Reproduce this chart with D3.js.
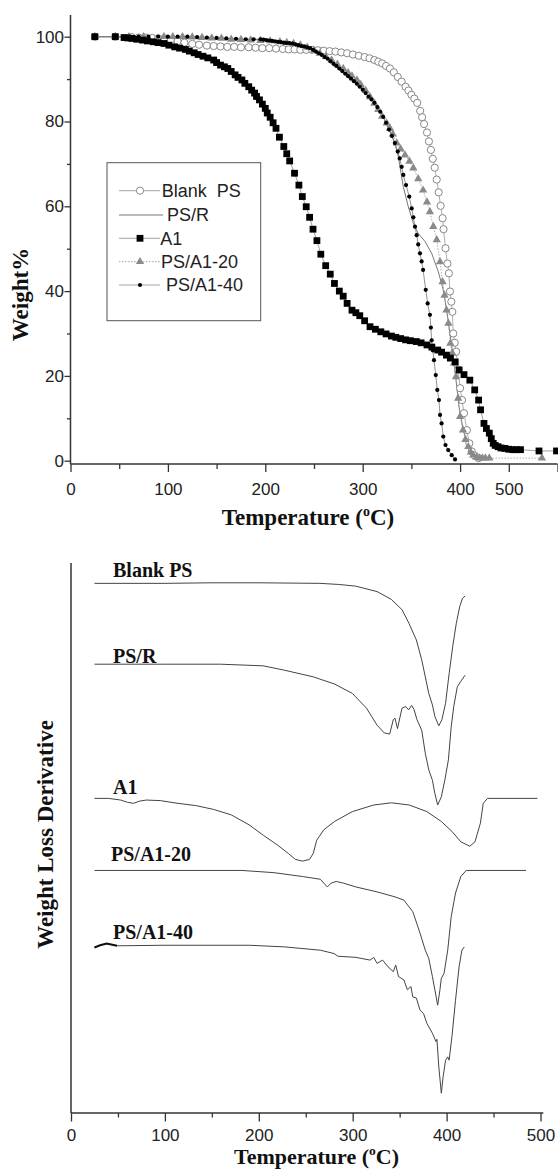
<!DOCTYPE html>
<html><head><meta charset="utf-8">
<script src="https://cdn.jsdelivr.net/npm/d3@7"></script>
<style>body{margin:0;background:#fff}</style>
</head><body>
<svg id="c" width="558" height="1169" xmlns="http://www.w3.org/2000/svg"></svg>
<script>
// ---------- DATA: TGA (Weight % vs Temperature °C) ----------
const tgaBlankPS = [[25,100],[46,100],[63,99.9],[70,99.8],[77,99.8],[84,99.7],[90,99.6],[96,99.5],[103,99.2],[110,98.9],[117,98.6],[125,98.3],[132,98.1],[140,97.9],[147,97.8],[154,97.7],[161,97.6],[168,97.6],[175,97.5],[183,97.5],[190,97.4],[197,97.3],[204,97.3],[211,97.2],[218,97.1],[224,97.0],[230,97.0],[236,96.9],[242,96.9],[248,96.9],[254,96.8],[260,96.7],[266,96.6],[272,96.5],[278,96.3],[284,96.1],[290,95.8],[296,95.5],[302,95.2],[307,94.9],[312,94.5],[316,94.1],[320,93.7],[324,93.1],[328,92.5],[332,91.6],[336,90.5],[340,89.4],[344,88.2],[347,87.3],[350,86.3],[353,85.4],[356,84.4],[359,82.5],[361,81.0],[363,79.4],[366,77.4],[368,75.3],[370,73.3],[372,71.2],[374,69.1],[376,66.3],[378,63.3],[380,60.1],[382,57.2],[383,54.6],[385,50.1],[387,46.5],[388.5,44.2],[389.6,39.9],[391,37.5],[392,35.1],[393,30.0],[394.5,27.8],[396,25.7],[398,21.5],[400,17.1],[402,14.3],[404,11.2],[407,7.2],[409.5,4.1],[412,2.2],[415,1.2],[419,0.6]];
const tgaPSR = [[25,100],[50,100],[100,99.8],[150,99.5],[195,99.3],[229,98.4],[246,97.3],[263,94.9],[280,91.7],[297,88.2],[311,84.7],[321,81.1],[328,77.6],[333,74.9],[336.6,71.7],[341.7,64.6],[346.8,59.9],[352,56.0],[357,53.6],[364,51.7],[370.8,48.9],[377.6,44.6],[382.7,40.3],[386.2,35.5],[389.6,30.0],[392.4,25.3],[395.8,19.0],[398.9,12.7],[403.3,7.2],[408.4,3.3],[417,0.9],[430,0.5]];
const tgaA1 = [[25,100],[46,100],[55,99.8],[59,99.7],[63,99.6],[68,99.4],[74,99.2],[79,99.0],[85,98.8],[90,98.6],[96,98.4],[101,98.0],[107,97.6],[112,97.3],[118,97.0],[122,96.6],[127,96.2],[131,95.8],[136,95.4],[141,95.0],[147,94.5],[150,93.9],[154,93.3],[158,92.9],[161.5,92.5],[165,91.8],[169,91.0],[172,90.4],[176,89.8],[179,89.0],[183,88.2],[186,87.4],[189,86.7],[191,85.9],[194,85.1],[197,84.1],[200,83.1],[202,82.0],[205,81.0],[208,79.7],[211,78.4],[214.5,76.3],[219,74.1],[222,72.4],[225,70.7],[230,67.8],[234.5,65.0],[238,62.3],[242,59.9],[245.5,57.4],[249,54.6],[253,51.9],[257,48.7],[262,46.0],[266.7,44.0],[271,41.8],[276,40.0],[280,38.8],[284,37.1],[289,35.5],[293,34.9],[297,34.2],[302,33.0],[307.5,31.6],[313,31.0],[318.6,30.4],[324,29.9],[329.5,29.4],[334,29.1],[339,28.8],[344,28.5],[349,28.3],[355,28.1],[360,27.8],[366,27.3],[371,26.8],[377,26.1],[381,25.6],[386,24.9],[390,24.2],[395,23.3],[399,21.4],[404,20.3],[410,19.0],[415,16.7],[419,14.3],[421,12.0],[424.5,8.8],[427,7.6],[430,6.5],[432,5.2],[434,4.1],[436,3.6],[439,3.3],[442,3.0],[446,2.9],[450,2.7],[454,2.6],[458,2.6],[462,2.6],[481,2.3],[499,2.3]];
const tgaPSA120 = [[25,100],[46,100],[60,100],[75,100],[96,100],[105,100],[115,100],[125,99.9],[135,99.8],[145,99.7],[155,99.6],[165,99.4],[175,99.3],[185,99.2],[195,99.1],[205,99.0],[215,98.8],[222,98.6],[229,98.4],[236,98.0],[243,97.5],[250,96.8],[256,96.1],[262,95.3],[268,94.5],[274,93.5],[280,92.5],[285,91.5],[289,90.7],[294,89.8],[298,88.7],[303,87.3],[307.5,85.8],[312,84.3],[316,82.8],[320,81.2],[324.6,79.6],[328,78.4],[331,77.0],[335,74.9],[339,73.5],[343.4,72.1],[348,70.6],[352,69.0],[357,66.5],[362,63.8],[366,61.0],[369,58.7],[372.5,55.2],[376,52.1],[379.4,46.9],[382,42.2],[384,39.0],[386,35.5],[388,32.4],[390,27.7],[392,25.4],[393.7,23.0],[395.8,19.8],[398,14.7],[400,10.4],[403,7.2],[405.5,5.0],[408.4,3.3],[411,2.0],[413.5,1.3],[417,0.8],[420,0.6],[423,0.6],[426,0.6],[430,0.6],[484,0.6]];
const tgaPSA140 = [[25,100],[46,100],[60,100],[70,100],[80,100],[90,100],[100,100],[110,100],[120,100],[130,99.9],[140,99.8],[150,99.7],[160,99.6],[170,99.5],[180,99.4],[188,99.4],[195,99.4],[198,99.3],[201,99.2],[204,99.1],[207,99.0],[210,98.9],[213,98.8],[216,98.7],[219,98.6],[222,98.5],[225,98.5],[228,98.4],[231,98.2],[234,98.0],[237,97.8],[240,97.7],[243,97.5],[246,97.3],[249,96.9],[252,96.5],[255,96.1],[258,95.7],[261,95.2],[264,94.8],[267,94.2],[270,93.6],[273,93.1],[276,92.5],[279,91.9],[282,91.3],[285,90.7],[288,90.1],[291,89.5],[294,88.9],[297,88.2],[300,87.5],[303,86.7],[306,85.9],[309,85.2],[312,84.4],[315,83.4],[318,82.3],[321,81.1],[324,79.7],[327,78.1],[330,76.6],[333,74.9],[336,72.9],[338,71.3],[340,69.3],[341.7,67.4],[344.5,65.0],[347.8,62.3],[350.3,59.5],[352,57.4],[353.7,55.2],[355.4,53.2],[357,51.0],[358.8,48.9],[360.5,47.0],[362,45.0],[364.7,40.3],[366.7,37.1],[369,34.4],[370,31.4],[370.8,28.4],[372,26.0],[373.2,23.7],[375,20.2],[376.6,16.7],[378.3,14.3],[379.4,10.8],[381,8.8],[382.7,5.7],[385,3.7],[387.8,2.5],[391.4,1.3],[394.8,0.3]];

const tgaYTicks = [0,20,40,60,80,100];
const tgaYMinor = [10,30,50,70,90];
const tgaXMinor = [50,150,250,350];
const tgaXTickVals = [0,100,200,300,400,450,500];
const tgaXTickLabels = ["0","100","200","300","400","500",""];
const legendNames = ["Blank  PS","PS/R","A1","PS/A1-20","PS/A1-40"];

// ---------- DATA: DTG (arbitrary offset units vs Temperature °C) ----------
const dtgBlankPS = [[25,96.3],[100,96.3],[150,96.4],[200,96.4],[265,96.3],[285,96.1],[303,95.8],[326,94.8],[341,93.4],[352.6,91.5],[360,89.0],[367.8,86.0],[373.5,82.4],[377.3,79.3],[381,76.3],[384.9,74.2],[387.5,72.1],[391.7,70.4],[395,71.5],[398.9,74.5],[402.7,79.9],[406.5,84.8],[410.3,89.0],[414,92.1],[417,93.6],[419.7,94.0]];
const dtgPSR = [[25,81.6],[100,81.6],[159,81.6],[204.8,81.3],[227.6,80.5],[258,79.3],[280.6,78.0],[299.6,76.3],[314.7,73.6],[326,70.5],[333.6,69.1],[339.4,68.9],[343.2,71.5],[345,71.8],[347.7,69.9],[352.5,73.6],[356.5,73.9],[359.5,73.3],[362.8,74.1],[365.2,73.4],[368.5,71.5],[373.5,69.6],[377.3,65.4],[381,62.4],[384.9,60.5],[387.5,58.1],[390.5,56.0],[394.4,57.5],[398.1,60.5],[401.9,64.2],[404.9,70.2],[407.6,73.9],[411.4,77.5],[416,78.7],[419.7,79.6]];
const dtgA1 = [[25,57.2],[40,57.2],[53,56.9],[60,56.5],[66.5,56.3],[73,56.7],[80,56.9],[95,56.8],[114,56.3],[132.8,55.9],[151.8,55.2],[170.7,54.2],[189.6,52.4],[204.8,50.5],[220,48.7],[231.4,47.2],[239,46.1],[246.5,45.8],[254,46.1],[258,47.2],[261.7,49.6],[269.3,51.5],[280.6,53.0],[299.6,54.8],[322.4,56.0],[341.3,56.4],[360.3,56.0],[379,54.8],[394.4,53.0],[405.7,51.2],[415.2,49.3],[424.7,48.5],[430.2,49.3],[436,52.7],[439,56.3],[443.6,57.2],[496.7,57.2]];
const dtgPSA120 = [[25,44.1],[100,44.1],[182,44.1],[216,43.7],[246.5,43.0],[265.5,42.5],[273,41.1],[277,41.8],[282.5,42.1],[290,41.8],[303.4,41.1],[326,40.2],[345,39.3],[354.5,38.7],[364,36.6],[371.7,32.7],[377.3,29.6],[381,28.1],[384.9,24.8],[387.5,22.4],[390.5,19.6],[392.9,22.4],[394.4,24.5],[397.3,25.4],[401.2,29.6],[404.9,35.7],[409.5,40.0],[415.2,43.0],[420.9,44.1],[484.6,44.1]];
const dtgPSA140 = [[25,30.1],[31,30.5],[38,30.8],[44,30.6],[49,30.4],[100,30.5],[190,30.5],[227.6,30.2],[265.5,29.6],[280,29.0],[284.4,28.5],[303.4,28.3],[318.5,27.8],[322.4,28.3],[326,27.2],[331.8,27.8],[337.5,26.6],[343.2,25.7],[345.8,26.9],[348.8,24.8],[354.5,24.2],[358.3,22.4],[362,23.0],[364,21.1],[367.8,20.9],[371.7,18.7],[375.4,18.1],[379,16.3],[384.9,14.5],[388.6,13.0],[389.7,13.4],[391.7,8.4],[394.4,3.6],[396.3,6.6],[398.9,9.6],[401.2,10.2],[402.7,9.6],[405.7,13.9],[409.5,20.5],[413.3,26.6],[416.3,29.6],[418.9,30.2]];
const dtgLabels = ["Blank PS","PS/R","A1","PS/A1-20","PS/A1-40"];
const dtgXTicks = [0,100,200,300,400,500];
const dtgXMinor = [50,150,250,350,450];

// ---------- DRAWING ----------
const SANS = "'Liberation Sans', Arial, sans-serif";
const SERIF = "'Liberation Serif', 'Times New Roman', serif";
const svg = d3.select("#c");
svg.append("rect").attr("width",558).attr("height",1169).attr("fill","#fff");

function styleAxis(g){
  g.select(".domain").remove();
  g.selectAll("line").attr("stroke","#333").attr("stroke-width",1.3);
  g.selectAll("text").attr("font-family",SANS).attr("font-size",17).attr("fill","#222");
}

// ===== TOP: TGA =====
const gTop = svg.append("g");
const x1 = d3.scaleLinear().domain([0,500]).range([70.5,557.5]);
const y1 = d3.scaleLinear().domain([0,100]).range([460.7,36.7]);
const axisY1 = y1(-0.78);

gTop.append("g").attr("transform",`translate(0,${axisY1})`)
  .call(d3.axisBottom(x1).tickValues(tgaXMinor).tickSize(5).tickFormat("")).call(styleAxis);
gTop.append("g").attr("transform",`translate(0,${axisY1})`)
  .call(d3.axisBottom(x1).tickValues(tgaXTickVals).tickSize(8).tickPadding(11).tickFormat((d,i)=>tgaXTickLabels[i])).call(styleAxis);
gTop.append("g").attr("transform",`translate(${x1(0)},0)`)
  .call(d3.axisLeft(y1).tickValues(tgaYMinor).tickSize(3.5).tickFormat("")).call(styleAxis);
gTop.append("g").attr("transform",`translate(${x1(0)},0)`)
  .call(d3.axisLeft(y1).tickValues(tgaYTicks).tickSize(6).tickPadding(0.5)).call(styleAxis);
gTop.append("line").attr("x1",x1(0)).attr("x2",x1(500)).attr("y1",axisY1).attr("y2",axisY1).attr("stroke","#333").attr("stroke-width",1.5);
gTop.append("line").attr("x1",x1(0)).attr("x2",x1(0)).attr("y1",axisY1).attr("y2",y1(105.1)).attr("stroke","#333").attr("stroke-width",1.5);

const line1 = d3.line().x(d=>x1(d[0])).y(d=>y1(d[1]));
gTop.append("path").attr("d",line1(tgaPSR)).attr("fill","none").attr("stroke","#666").attr("stroke-width",0.9);
gTop.append("path").attr("d",line1(tgaBlankPS)).attr("fill","none").attr("stroke","#999").attr("stroke-width",0.8);
gTop.append("path").attr("d",line1(tgaA1)).attr("fill","none").attr("stroke","#888").attr("stroke-width",0.8);
gTop.append("path").attr("d",line1(tgaPSA120)).attr("fill","none").attr("stroke","#999").attr("stroke-width",0.8).attr("stroke-dasharray","1.5,1.5");
gTop.append("path").attr("d",line1(tgaPSA140)).attr("fill","none").attr("stroke","#777").attr("stroke-width",0.8);

const tri = d3.symbol(d3.symbolTriangle, 30);
gTop.selectAll("circle.bps").data(tgaBlankPS).join("circle").attr("class","bps")
  .attr("cx",d=>x1(d[0])).attr("cy",d=>y1(d[1])).attr("r",3.6).attr("fill","#fff").attr("stroke","#888").attr("stroke-width",1);
gTop.selectAll("path.t20").data(tgaPSA120).join("path").attr("class","t20")
  .attr("d",tri).attr("transform",d=>`translate(${x1(d[0])},${y1(d[1])})`).attr("fill","#8a8a8a");
gTop.selectAll("circle.d40").data(tgaPSA140).join("circle").attr("class","d40")
  .attr("cx",d=>x1(d[0])).attr("cy",d=>y1(d[1])).attr("r",2.1).attr("fill","#000");
gTop.selectAll("rect.a1").data(tgaA1).join("rect").attr("class","a1")
  .attr("x",d=>x1(d[0])-3.4).attr("y",d=>y1(d[1])-3.4).attr("width",6.8).attr("height",6.8).attr("fill","#000");

// legend
const lg = gTop.append("g");
lg.append("rect").attr("x",107).attr("y",162.7).attr("width",153.7).attr("height",158).attr("fill","#fff").attr("stroke","#555").attr("stroke-width",1);
const legY = [190.7,215,238.3,261.7,285];
const legTX = [161.7,167,160.3,161,166];
legendNames.forEach((n,i)=>{
  const y = legY[i];
  const l = lg.append("line").attr("x1",119).attr("x2",i===1?163:160).attr("y1",y).attr("y2",y)
    .attr("stroke", i===1?"#666":"#999").attr("stroke-width",0.9);
  if(i===3) l.attr("stroke-dasharray","1.5,1.5");
  if(i===0) lg.append("circle").attr("cx",140).attr("cy",y).attr("r",3.6).attr("fill","#fff").attr("stroke","#888");
  if(i===2) lg.append("rect").attr("x",136.6).attr("y",y-3.4).attr("width",6.8).attr("height",6.8).attr("fill","#000");
  if(i===3) lg.append("path").attr("d",tri).attr("transform",`translate(140,${y})`).attr("fill","#8a8a8a");
  if(i===4) lg.append("circle").attr("cx",140).attr("cy",y).attr("r",2.1).attr("fill","#000");
  lg.append("text").attr("x",legTX[i]).attr("y",y+6.3).attr("font-family",SANS).attr("font-size",18)
    .attr("fill","#222").style("white-space","pre").text(n);
});

// titles top
const tt = gTop.append("text").attr("x",308).attr("y",525).attr("text-anchor","middle")
  .attr("font-family",SERIF).attr("font-weight","bold").attr("font-size",23).attr("fill","#111");
tt.append("tspan").text("Temperature (");
tt.append("tspan").attr("dy",-9).attr("font-size",14).text("o");
tt.append("tspan").attr("dy",9).text("C)");
gTop.append("text").attr("transform","translate(28,294.5) rotate(-90)").attr("text-anchor","middle")
  .attr("font-family",SERIF).attr("font-weight","bold").attr("font-size",23).attr("fill","#111").text("Weight%");

// ===== BOTTOM: DTG =====
const gBot = svg.append("g");
const x2 = d3.scaleLinear().domain([0,500]).range([71,540.5]);
const y2 = d3.scaleLinear().domain([0,100]).range([1113,563]);

gBot.append("g").attr("transform",`translate(0,${y2(0)})`)
  .call(d3.axisBottom(x2).tickValues(dtgXMinor).tickSize(4.5).tickFormat("")).call(styleAxis);
gBot.append("g").attr("transform",`translate(0,${y2(0)})`)
  .call(d3.axisBottom(x2).tickValues(dtgXTicks).tickSize(8.5).tickPadding(7).tickFormat(d3.format("d"))).call(styleAxis);
gBot.append("line").attr("x1",x2(0)).attr("x2",x2(503)).attr("y1",y2(0)).attr("y2",y2(0)).attr("stroke","#333").attr("stroke-width",1.5);
gBot.append("line").attr("x1",x2(0)).attr("x2",x2(0)).attr("y1",y2(0)).attr("y2",y2(100)).attr("stroke","#333").attr("stroke-width",1.5);

const line2 = d3.line().x(d=>x2(d[0])).y(d=>y2(d[1]));
[dtgBlankPS,dtgPSR,dtgA1,dtgPSA120,dtgPSA140].forEach(s=>{
  gBot.append("path").attr("d",line2(s)).attr("fill","none").attr("stroke","#444").attr("stroke-width",1);
});
gBot.append("path").attr("d",line2(dtgPSA140.filter(d=>d[0]<=49))).attr("fill","none").attr("stroke","#111").attr("stroke-width",2);

const dtgLabX = [113,113,113,111,113];
const dtgLabY = [576.7,662.7,794,861,939.3];
dtgLabels.forEach((n,i)=>{
  gBot.append("text").attr("x",dtgLabX[i]).attr("y",dtgLabY[i]).attr("font-family",SERIF).attr("font-weight","bold")
    .attr("font-size",20).attr("fill","#111").text(n);
});

const bt = gBot.append("text").attr("x",316.5).attr("y",1163.5).attr("text-anchor","middle")
  .attr("font-family",SERIF).attr("font-weight","bold").attr("font-size",22).attr("fill","#111");
bt.append("tspan").text("Temperature (");
bt.append("tspan").attr("dy",-8.5).attr("font-size",13.5).text("o");
bt.append("tspan").attr("dy",8.5).text("C)");
gBot.append("text").attr("transform","translate(52.5,834.5) rotate(-90)").attr("text-anchor","middle")
  .attr("font-family",SERIF).attr("font-weight","bold").attr("font-size",23).attr("fill","#111").text("Weight Loss Derivative");
</script>
</body></html>
